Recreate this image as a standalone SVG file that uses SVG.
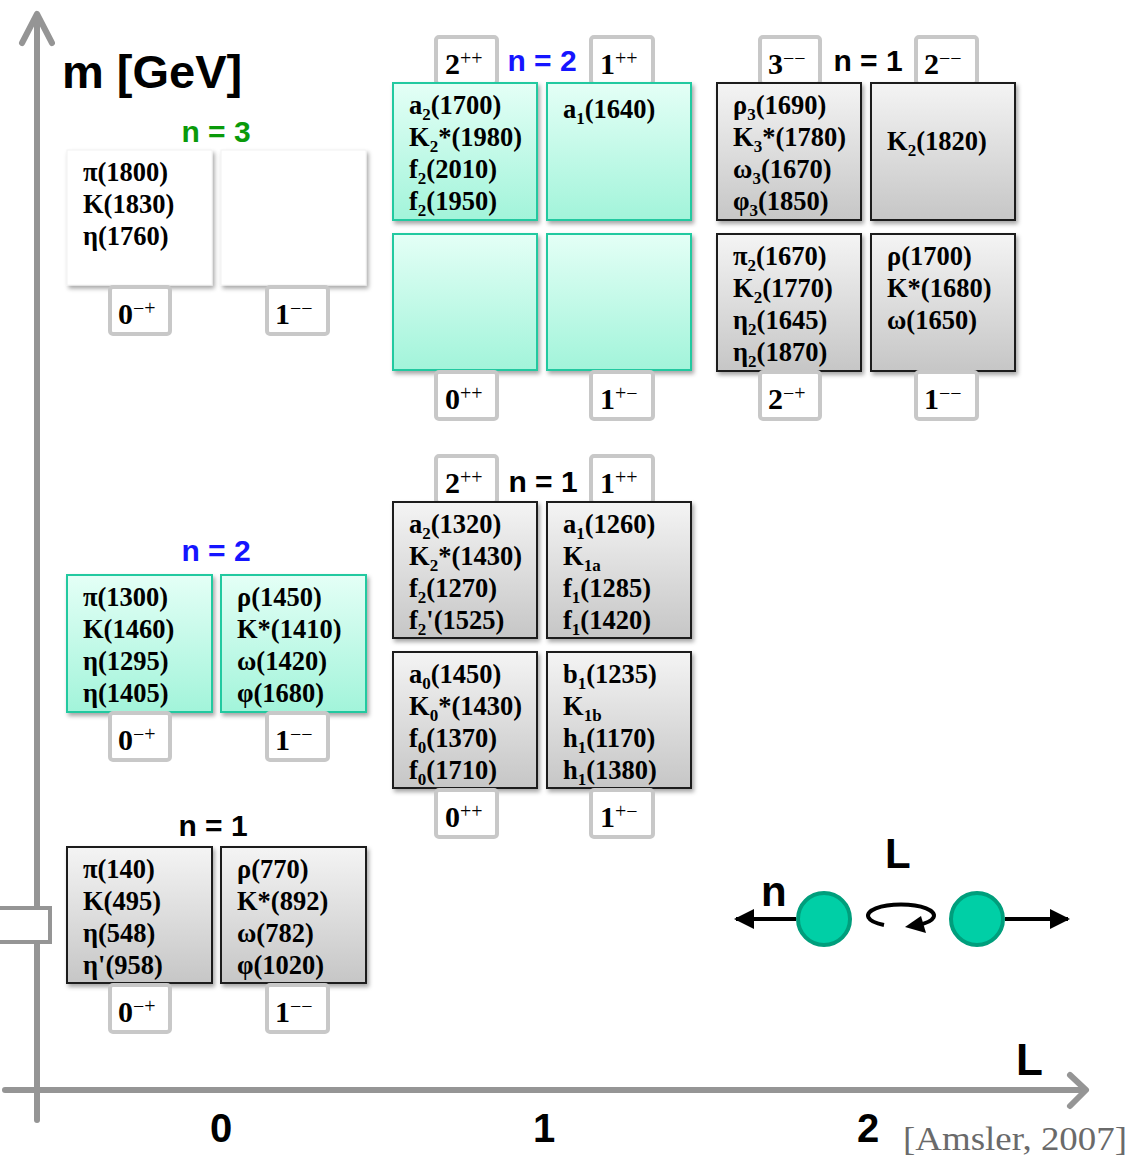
<svg xmlns="http://www.w3.org/2000/svg" width="1130" height="1156" viewBox="0 0 1130 1156">
<defs>
<linearGradient id="gGray" x1="0" y1="0" x2="0" y2="1"><stop offset="0" stop-color="#f4f4f4"/><stop offset="1" stop-color="#c6c6c6"/></linearGradient>
<linearGradient id="gTeal" x1="0" y1="0" x2="0" y2="1"><stop offset="0" stop-color="#e4fff6"/><stop offset="1" stop-color="#a2f4da"/></linearGradient>
<filter id="sh" x="-10%" y="-10%" width="125%" height="125%"><feDropShadow dx="2" dy="3" stdDeviation="2" flood-color="#000" flood-opacity="0.35"/></filter>
<marker id="ah" viewBox="0 0 10 10" refX="9" refY="5" markerWidth="5" markerHeight="5" orient="auto-start-reverse" markerUnits="strokeWidth"><path d="M0,0 L10,5 L0,10 z" fill="#000"/></marker>
<style>
.p{font-family:"Liberation Serif","Times New Roman",serif;font-weight:bold;font-size:26.5px;fill:#000}
.sb{font-size:17px}
.gray{fill:url(#gGray);stroke:#1a1a1a;stroke-width:2;filter:url(#sh)}
.teal{fill:url(#gTeal);stroke:#22c9a0;stroke-width:2;filter:url(#sh)}
.white{fill:#fff;stroke:#f2f2f2;stroke-width:1;filter:url(#sh)}
.lb{fill:#fff;stroke:#c8c8c8;stroke-width:4}
.lt{font-family:"Liberation Serif","Times New Roman",serif;font-weight:bold;font-size:30px;fill:#000}
.sp{font-size:20px;font-weight:normal}
.nl{font-family:"Liberation Sans",Arial,sans-serif;font-weight:bold;font-size:30px;text-anchor:middle}
.ax{stroke:#959595;stroke-width:6;fill:none;stroke-linecap:round;stroke-linejoin:round}
.big{font-family:"Liberation Sans",Arial,sans-serif;font-weight:bold;fill:#000}
</style>
</defs>
<rect width="1130" height="1156" fill="#fff"/>

<g id="connectors">
<line class="ax" x1="37" y1="16" x2="37" y2="1120" stroke-linecap="butt"/>
<polyline class="ax" points="22,43 37,14 52,43"/>
<line class="ax" x1="5" y1="1090" x2="1084" y2="1090" stroke-linecap="butt"/>
<polyline class="ax" points="1070,1075 1086,1090 1070,1106"/>
<rect x="-4" y="908" width="54" height="34" fill="#fff" stroke="#959595" stroke-width="4"/>
</g>

<g id="title"><text class="big" x="62" y="88" font-size="47">m [GeV]</text></g>

<!-- n=3 L=0 -->
<g id="n3-L0">
<text class="nl" x="216" y="142" fill="#0a9a0a">n = 3</text>
<rect class="white" x="67" y="150" width="145" height="135"/>
<rect class="white" x="221" y="150" width="145" height="135"/>
<text class="p" x="83" y="181">π(1800)</text>
<text class="p" x="83" y="213">K(1830)</text>
<text class="p" x="83" y="245">η(1760)</text>
<rect class="lb" x="110" y="287" width="60" height="47" rx="3"/>
<text class="lt" x="118" y="324">0<tspan class="sp" dy="-9">−+</tspan></text>
<rect class="lb" x="267" y="287" width="61" height="47" rx="3"/>
<text class="lt" x="275" y="324">1<tspan class="sp" dy="-9">−−</tspan></text>
</g>

<!-- n=2 L=0 -->
<g id="n2-L0">
<text class="nl" x="216" y="561" fill="#1515ff">n = 2</text>
<rect class="teal" x="67" y="575" width="145" height="137"/>
<rect class="teal" x="221" y="575" width="145" height="137"/>
<text class="p" x="83" y="606">π(1300)</text>
<text class="p" x="83" y="638">K(1460)</text>
<text class="p" x="83" y="670">η(1295)</text>
<text class="p" x="83" y="702">η(1405)</text>
<text class="p" x="237" y="606">ρ(1450)</text>
<text class="p" x="237" y="638">K*(1410)</text>
<text class="p" x="237" y="670">ω(1420)</text>
<text class="p" x="237" y="702">φ(1680)</text>
<rect class="lb" x="110" y="713" width="60" height="47" rx="3"/>
<text class="lt" x="118" y="750">0<tspan class="sp" dy="-9">−+</tspan></text>
<rect class="lb" x="267" y="713" width="61" height="47" rx="3"/>
<text class="lt" x="275" y="750">1<tspan class="sp" dy="-9">−−</tspan></text>
</g>

<!-- n=1 L=0 -->
<g id="n1-L0">
<text class="nl" x="213" y="836" fill="#000">n = 1</text>
<rect class="gray" x="67" y="847" width="145" height="136"/>
<rect class="gray" x="221" y="847" width="145" height="136"/>
<text class="p" x="83" y="878">π(140)</text>
<text class="p" x="83" y="910">K(495)</text>
<text class="p" x="83" y="942">η(548)</text>
<text class="p" x="83" y="974">η'(958)</text>
<text class="p" x="237" y="878">ρ(770)</text>
<text class="p" x="237" y="910">K*(892)</text>
<text class="p" x="237" y="942">ω(782)</text>
<text class="p" x="237" y="974">φ(1020)</text>
<rect class="lb" x="110" y="985" width="60" height="47" rx="3"/>
<text class="lt" x="118" y="1022">0<tspan class="sp" dy="-9">−+</tspan></text>
<rect class="lb" x="267" y="985" width="61" height="47" rx="3"/>
<text class="lt" x="275" y="1022">1<tspan class="sp" dy="-9">−−</tspan></text>
</g>

<!-- n=2 L=1 -->
<g id="n2-L1">
<rect class="lb" x="436" y="37" width="61" height="47" rx="3"/>
<text class="lt" x="445" y="74">2<tspan class="sp" dy="-9">++</tspan></text>
<text class="nl" x="542" y="71" fill="#1515ff">n = 2</text>
<rect class="lb" x="591" y="37" width="62" height="47" rx="3"/>
<text class="lt" x="600" y="74">1<tspan class="sp" dy="-9">++</tspan></text>
<rect class="teal" x="393" y="83" width="144" height="137"/>
<rect class="teal" x="547" y="83" width="144" height="137"/>
<rect class="teal" x="393" y="234" width="144" height="136"/>
<rect class="teal" x="547" y="234" width="144" height="136"/>
<text class="p" x="409" y="114">a<tspan class="sb" dy="6">2</tspan><tspan dy="-6">(1700)</tspan></text>
<text class="p" x="409" y="146">K<tspan class="sb" dy="6">2</tspan><tspan dy="-6">*(1980)</tspan></text>
<text class="p" x="409" y="178">f<tspan class="sb" dy="6">2</tspan><tspan dy="-6">(2010)</tspan></text>
<text class="p" x="409" y="210">f<tspan class="sb" dy="6">2</tspan><tspan dy="-6">(1950)</tspan></text>
<text class="p" x="563" y="118">a<tspan class="sb" dy="6">1</tspan><tspan dy="-6">(1640)</tspan></text>
<rect class="lb" x="436" y="372" width="61" height="47" rx="3"/>
<text class="lt" x="445" y="409">0<tspan class="sp" dy="-9">++</tspan></text>
<rect class="lb" x="591" y="372" width="62" height="47" rx="3"/>
<text class="lt" x="600" y="409">1<tspan class="sp" dy="-9">+−</tspan></text>
</g>

<!-- n=1 L=1 -->
<g id="n1-L1">
<rect class="lb" x="436" y="456" width="61" height="47" rx="3"/>
<text class="lt" x="445" y="493">2<tspan class="sp" dy="-9">++</tspan></text>
<text class="nl" x="543" y="492" fill="#000">n = 1</text>
<rect class="lb" x="591" y="456" width="62" height="47" rx="3"/>
<text class="lt" x="600" y="493">1<tspan class="sp" dy="-9">++</tspan></text>
<rect class="gray" x="393" y="502" width="144" height="136"/>
<rect class="gray" x="547" y="502" width="144" height="136"/>
<rect class="gray" x="393" y="652" width="144" height="136"/>
<rect class="gray" x="547" y="652" width="144" height="136"/>
<text class="p" x="409" y="533">a<tspan class="sb" dy="6">2</tspan><tspan dy="-6">(1320)</tspan></text>
<text class="p" x="409" y="565">K<tspan class="sb" dy="6">2</tspan><tspan dy="-6">*(1430)</tspan></text>
<text class="p" x="409" y="597">f<tspan class="sb" dy="6">2</tspan><tspan dy="-6">(1270)</tspan></text>
<text class="p" x="409" y="629">f<tspan class="sb" dy="6">2</tspan><tspan dy="-6">'(1525)</tspan></text>
<text class="p" x="563" y="533">a<tspan class="sb" dy="6">1</tspan><tspan dy="-6">(1260)</tspan></text>
<text class="p" x="563" y="565">K<tspan class="sb" dy="6">1a</tspan></text>
<text class="p" x="563" y="597">f<tspan class="sb" dy="6">1</tspan><tspan dy="-6">(1285)</tspan></text>
<text class="p" x="563" y="629">f<tspan class="sb" dy="6">1</tspan><tspan dy="-6">(1420)</tspan></text>
<text class="p" x="409" y="683">a<tspan class="sb" dy="6">0</tspan><tspan dy="-6">(1450)</tspan></text>
<text class="p" x="409" y="715">K<tspan class="sb" dy="6">0</tspan><tspan dy="-6">*(1430)</tspan></text>
<text class="p" x="409" y="747">f<tspan class="sb" dy="6">0</tspan><tspan dy="-6">(1370)</tspan></text>
<text class="p" x="409" y="779">f<tspan class="sb" dy="6">0</tspan><tspan dy="-6">(1710)</tspan></text>
<text class="p" x="563" y="683">b<tspan class="sb" dy="6">1</tspan><tspan dy="-6">(1235)</tspan></text>
<text class="p" x="563" y="715">K<tspan class="sb" dy="6">1b</tspan></text>
<text class="p" x="563" y="747">h<tspan class="sb" dy="6">1</tspan><tspan dy="-6">(1170)</tspan></text>
<text class="p" x="563" y="779">h<tspan class="sb" dy="6">1</tspan><tspan dy="-6">(1380)</tspan></text>
<rect class="lb" x="436" y="790" width="61" height="47" rx="3"/>
<text class="lt" x="445" y="827">0<tspan class="sp" dy="-9">++</tspan></text>
<rect class="lb" x="591" y="790" width="62" height="47" rx="3"/>
<text class="lt" x="600" y="827">1<tspan class="sp" dy="-9">+−</tspan></text>
</g>

<!-- n=1 L=2 -->
<g id="n1-L2">
<rect class="lb" x="760" y="37" width="60" height="47" rx="3"/>
<text class="lt" x="768" y="74">3<tspan class="sp" dy="-9">−−</tspan></text>
<text class="nl" x="868" y="71" fill="#000">n = 1</text>
<rect class="lb" x="916" y="37" width="61" height="47" rx="3"/>
<text class="lt" x="924" y="74">2<tspan class="sp" dy="-9">−−</tspan></text>
<rect class="gray" x="717" y="83" width="144" height="137"/>
<rect class="gray" x="871" y="83" width="144" height="137"/>
<rect class="gray" x="717" y="234" width="144" height="137"/>
<rect class="gray" x="871" y="234" width="144" height="137"/>
<text class="p" x="733" y="114">ρ<tspan class="sb" dy="6">3</tspan><tspan dy="-6">(1690)</tspan></text>
<text class="p" x="733" y="146">K<tspan class="sb" dy="6">3</tspan><tspan dy="-6">*(1780)</tspan></text>
<text class="p" x="733" y="178">ω<tspan class="sb" dy="6">3</tspan><tspan dy="-6">(1670)</tspan></text>
<text class="p" x="733" y="210">φ<tspan class="sb" dy="6">3</tspan><tspan dy="-6">(1850)</tspan></text>
<text class="p" x="887" y="150">K<tspan class="sb" dy="6">2</tspan><tspan dy="-6">(1820)</tspan></text>
<text class="p" x="733" y="265">π<tspan class="sb" dy="6">2</tspan><tspan dy="-6">(1670)</tspan></text>
<text class="p" x="733" y="297">K<tspan class="sb" dy="6">2</tspan><tspan dy="-6">(1770)</tspan></text>
<text class="p" x="733" y="329">η<tspan class="sb" dy="6">2</tspan><tspan dy="-6">(1645)</tspan></text>
<text class="p" x="733" y="361">η<tspan class="sb" dy="6">2</tspan><tspan dy="-6">(1870)</tspan></text>
<text class="p" x="887" y="265">ρ(1700)</text>
<text class="p" x="887" y="297">K*(1680)</text>
<text class="p" x="887" y="329">ω(1650)</text>
<rect class="lb" x="760" y="372" width="60" height="47" rx="3"/>
<text class="lt" x="768" y="409">2<tspan class="sp" dy="-9">−+</tspan></text>
<rect class="lb" x="916" y="372" width="61" height="47" rx="3"/>
<text class="lt" x="924" y="409">1<tspan class="sp" dy="-9">−−</tspan></text>
</g>

<!-- legend -->
<g id="legend">
<line x1="796" y1="919" x2="736" y2="919" stroke="#000" stroke-width="4" marker-end="url(#ah)"/>
<line x1="1005" y1="919" x2="1068" y2="919" stroke="#000" stroke-width="4" marker-end="url(#ah)"/>
<circle cx="824" cy="919" r="26" fill="#00cfa6" stroke="#009e7c" stroke-width="4"/>
<circle cx="977" cy="919" r="26" fill="#00cfa6" stroke="#009e7c" stroke-width="4"/>
<path d="M884,925 A33,11 0 1 1 918,925" fill="none" stroke="#000" stroke-width="4"/>
<polygon points="905,927 921,916 926,933" fill="#000"/>
<text class="big" x="761" y="906" font-size="42">n</text>
<text class="big" x="885" y="868" font-size="42">L</text>
</g>

<g id="axis-labels">
<text class="big" x="221" y="1142" font-size="40" text-anchor="middle">0</text>
<text class="big" x="544" y="1142" font-size="40" text-anchor="middle">1</text>
<text class="big" x="868" y="1142" font-size="40" text-anchor="middle">2</text>
<text class="big" x="1016" y="1075" font-size="44">L</text>
<text x="903" y="1150" font-family="Liberation Serif,'Times New Roman',serif" font-size="34" fill="#6a6a6a" textLength="224" lengthAdjust="spacingAndGlyphs">[Amsler, 2007]</text>
</g>
</svg>
